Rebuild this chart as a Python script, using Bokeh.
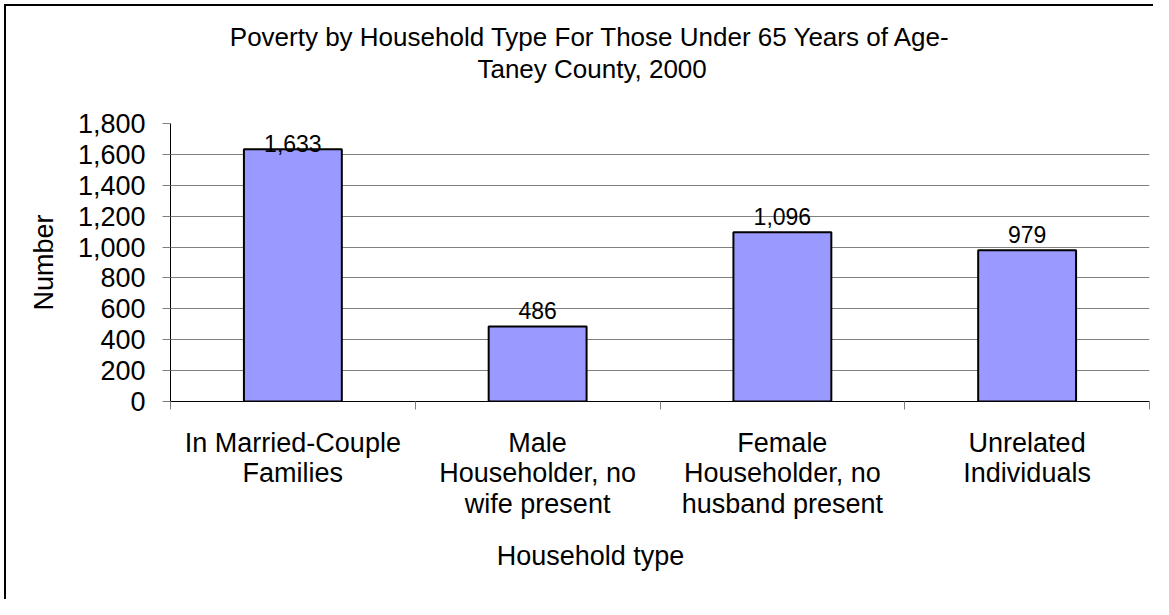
import numpy as np
from bokeh.plotting import figure
from bokeh.models import (Range1d, FixedTicker, NumeralTickFormatter,
                          CustomJSTickFormatter, Title)
from bokeh.core.properties import value
from bokeh.embed import file_html
from bokeh.resources import INLINE

# ---- data ----
categories = ["In Married-Couple\nFamilies",
              "Male\nHouseholder, no\nwife present",
              "Female\nHouseholder, no\nhusband present",
              "Unrelated\nIndividuals"]
counts = [1633, 486, 1096, 979]
y_ticks = [0, 200, 400, 600, 800, 1000, 1200, 1400, 1600, 1800]
title_lines = ["Poverty by Household Type For Those Under 65 Years of Age-",
               "Taney County, 2000"]
x_title = "Household type"
y_title = "Number"

FONT = "Liberation Sans"

n = len(categories)
x_pos = np.arange(n) + 0.5
vals = np.array(counts, dtype=float)
y_max = y_ticks[-1]

FRAME_LEFT = 170
p = figure(width=1153, height=599, output_backend="svg", toolbar_location=None,
           tools="", x_range=Range1d(0, n), y_range=Range1d(0, y_max),
           min_border_left=FRAME_LEFT, min_border_right=4, min_border_top=123,
           min_border_bottom=198)
# chart-area border (top and left edges visible), drawn behind a transparent canvas
p.styles = {
    "background-color": "white",
    "background-image": "linear-gradient(black, black), linear-gradient(black, black)",
    "background-size": "calc(100% - 4px) 2px, 2px calc(100% - 4px)",
    "background-position": "4px 4px, 4px 4px",
    "background-repeat": "no-repeat",
}
p.background_fill_color = None
p.border_fill_color = None
p.outline_line_color = None

# bars
p.vbar(x=x_pos, top=vals, width=0.4, bottom=0, fill_color="#9999FF",
       line_color="black", line_width=2)

# value labels (kept inside plot area like Excel)
label_y = np.minimum(vals + 100, y_max - 130)
p.text(x=x_pos, y=label_y, text=[f"{c:,}" for c in counts],
       text_align="center", text_baseline="alphabetic",
       text_font=value(FONT), text_font_size="23px", text_color="black")

# grid
p.xgrid.grid_line_color = None
p.ygrid.grid_line_color = "#808080"
p.ygrid.grid_line_width = 1

# y axis
ya = p.yaxis[0]
ya.ticker = FixedTicker(ticks=y_ticks)
ya.formatter = NumeralTickFormatter(format="0,0")
ya.axis_line_color = "black"
ya.major_tick_out = 8
ya.major_tick_in = 0
ya.major_tick_line_color = "#808080"
ya.minor_tick_line_color = None
ya.major_label_standoff = 17
ya.major_label_text_font = FONT
ya.major_label_text_font_size = "27px"
ya.major_label_text_color = "black"
ya.axis_label = y_title
ya.axis_label_text_font = FONT
ya.axis_label_text_font_size = "27px"
ya.axis_label_text_font_style = "normal"
ya.axis_label_text_color = "black"
ya.axis_label_standoff = 16

# x axis
xa = p.xaxis[0]
xa.ticker = FixedTicker(ticks=list(x_pos), minor_ticks=list(range(n + 1)))
xa.formatter = CustomJSTickFormatter(
    args=dict(labels=categories),
    code="const i = Math.floor(tick); return (i >= 0 && i < labels.length) ? labels[i] : '';")
xa.axis_line_color = "black"
xa.major_tick_line_color = None
xa.major_tick_out = 0
xa.major_tick_in = 0
xa.minor_tick_out = 8
xa.minor_tick_in = 0
xa.minor_tick_line_color = "#808080"
xa.major_label_standoff = 18
xa.major_label_text_font = FONT
xa.major_label_text_font_size = "27px"
xa.major_label_text_color = "black"
xa.major_label_text_line_height = 1.03

# titles: centred on the whole chart (not the plot area), so left-aligned with offsets
ARIAL_W = {'P': .667, 'o': .556, 'v': .5, 'e': .556, 'r': .333, 't': .278, 'y': .5,
           ' ': .278, 'b': .556, 'H': .722, 'u': .556, 's': .5, 'h': .556, 'l': .222,
           'd': .556, 'T': .611, 'p': .556, 'F': .611, 'U': .722, 'n': .556, '6': .556,
           '5': .556, 'Y': .667, 'a': .556, 'f': .278, 'A': .667, 'g': .556, '-': .333,
           'C': .722, ',': .278, '2': .556, '0': .556}
def text_width(text):
    return sum(ARIAL_W.get(ch, .556) for ch in text)

def title_offset(text, size_px, centre):
    return centre - FRAME_LEFT - 0.5 * text_width(text) * size_px

# white (invisible) spacer between plot area and the two-line title
spacer = Title(text=".", text_font_size="2px", text_color="white", standoff=37)
p.add_layout(spacer, "above")

t2 = Title(text=title_lines[1], align="left", offset=title_offset(title_lines[1], 26, 594),
           text_font=FONT, text_font_size="26px", text_font_style="normal",
           text_color="black", standoff=0)
p.add_layout(t2, "above")

p.title.text = title_lines[0]
p.title.align = "left"
p.title.offset = title_offset(title_lines[0], 26, 592)
p.title.text_font = FONT
p.title.text_font_size = "26px"
p.title.text_font_style = "normal"
p.title.text_color = "black"
p.title.standoff = 0

t3 = Title(text=x_title, align="left", offset=title_offset(x_title, 27, 590),
           text_font=FONT, text_font_size="27px", text_font_style="normal",
           text_color="black", standoff=32)
p.add_layout(t3, "below")

open("out.html", "w").write(file_html(p, INLINE))
